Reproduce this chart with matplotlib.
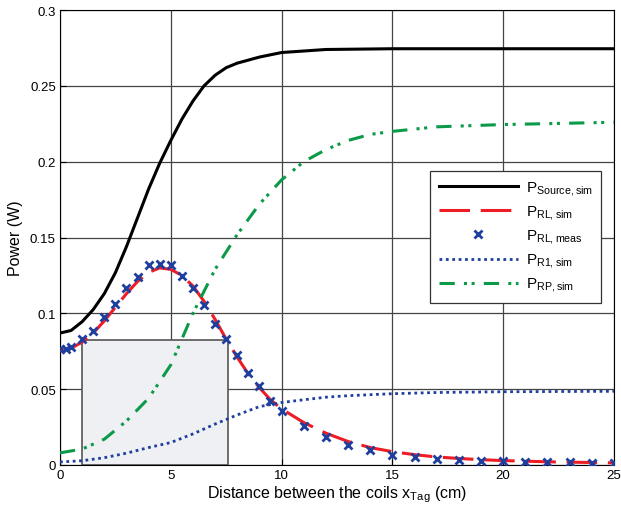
import numpy as np
import matplotlib
matplotlib.use('Agg')
import matplotlib.pyplot as plt
from matplotlib.patches import Rectangle
from matplotlib.legend_handler import HandlerLine2D

plt.rcParams['font.family'] = ['Liberation Sans', 'DejaVu Sans']
plt.rcParams['font.size'] = 9

# P_Source,sim
x_src = [0, 0.5, 1, 1.5, 2, 2.5, 3, 3.5, 4, 4.5, 5, 5.5, 6, 6.5, 7, 7.5, 8, 9, 10, 11, 12, 15, 20, 25]
p_src = [0.087, 0.0887, 0.0945, 0.1025, 0.1130, 0.1268, 0.144, 0.163, 0.182, 0.199, 0.214, 0.228, 0.240, 0.250, 0.257, 0.262, 0.265, 0.269, 0.272, 0.273, 0.274, 0.2745, 0.2745, 0.2745]

# P_RL,sim
x_rl = [0, 0.5, 1, 1.5, 2, 2.5, 3, 3.5, 4, 4.5, 5, 5.5, 6, 6.5, 7, 7.5, 8, 8.5, 9, 9.5, 10,
        11, 12, 13, 14, 15, 16, 17, 18, 19, 20, 22, 25]
p_rl = [0.075, 0.077, 0.081, 0.087, 0.095, 0.104, 0.113, 0.121, 0.127, 0.130, 0.129, 0.125, 0.118, 0.108, 0.096, 0.083, 0.071, 0.060, 0.051, 0.043, 0.037,
        0.028, 0.021, 0.0155, 0.0115, 0.0088, 0.0068, 0.0053, 0.0043, 0.0035, 0.0029, 0.0021, 0.0014]

# P_RL,meas
x_meas = [0, 0.25, 0.5, 1, 1.5, 2, 2.5, 3, 3.5, 4, 4.5, 5, 5.5, 6, 6.5, 7, 7.5, 8, 8.5, 9, 9.5, 10,
          11, 12, 13, 14, 15, 16, 17, 18, 19, 20, 21, 22, 23, 24, 25]
p_meas = [0.0765, 0.0765, 0.0776, 0.0831, 0.0886, 0.0974, 0.106, 0.117, 0.1237, 0.1319, 0.1325, 0.1319, 0.1248, 0.117, 0.1055, 0.093, 0.0831, 0.0725, 0.0607, 0.0519, 0.0424, 0.0354,
          0.0259, 0.0187, 0.0132, 0.0099, 0.0068, 0.0055, 0.0040, 0.0035, 0.0026, 0.0024, 0.0022, 0.0018, 0.0018, 0.0016, 0.0013]

# P_R1,sim
x_r1 = [0, 1, 2, 3, 4, 5, 6, 7, 8, 9, 10, 11, 12, 13, 15, 17, 20, 25]
p_r1 = [0.002, 0.0028, 0.0048, 0.0078, 0.0115, 0.0148, 0.0205, 0.027, 0.033, 0.0385, 0.0412, 0.043, 0.0447, 0.0457, 0.047, 0.0478, 0.0483, 0.0486]

# P_RP,sim
x_rp = [0, 1, 2, 3, 4, 5, 6, 7, 8, 9, 10, 11, 12, 13, 14, 15, 17, 20, 25]
p_rp = [0.008, 0.0105, 0.017, 0.029, 0.044, 0.066, 0.100, 0.129, 0.152, 0.172, 0.188, 0.200, 0.208, 0.214, 0.218, 0.220, 0.223, 0.2245, 0.226]


class MarkerAtEnd(HandlerLine2D):
    # legend marker sits near the right end of the handle, like the original
    def get_xdata(self, legend, xdescent, ydescent, width, height, fontsize):
        xdata, _ = super().get_xdata(legend, xdescent, ydescent, width, height, fontsize)
        return xdata, np.array([0.8 * width - xdescent])


fig = plt.figure(figsize=(6.21, 5.10), dpi=100)
ax = fig.add_axes([0.0966, 0.0863, 0.892, 0.892])

ax.add_patch(Rectangle((1, 0), 6.6, 0.0825, facecolor='#eff0f3', edgecolor='#555555', linewidth=1.2, zorder=1))

ax.plot(x_src, p_src, color='black', lw=2.2, label=r'P$_\mathregular{Source,sim}$', zorder=3)
ax.plot(x_rl, p_rl, color='#ee1c24', lw=2.2, dashes=(10, 3.5), label=r'P$_\mathregular{RL,sim}$', zorder=3)
meas, = ax.plot(x_meas, p_meas, ls='none', marker='x', color='#1f3f9f', ms=6, mew=2, label=r'P$_\mathregular{RL,meas}$', zorder=4)
ax.plot(x_r1, p_r1, color='#1f3f9f', lw=2, ls=(0, (1, 1.3)), label=r'P$_\mathregular{R1,sim}$', zorder=3)
ax.plot(x_rp, p_rp, color='#0a9a48', lw=2.2, dashes=(5, 3, 1, 1.5, 1, 3), label=r'P$_\mathregular{RP,sim}$', zorder=3)

ax.set_xlim(0, 25)
ax.set_ylim(0, 0.3)
ax.set_xticks([0, 5, 10, 15, 20, 25])
ax.set_yticks([0, 0.05, 0.1, 0.15, 0.2, 0.25, 0.3])
ax.set_yticklabels(['0', '0.05', '0.1', '0.15', '0.2', '0.25', '0.3'])
ax.grid(True, color='#444444', lw=0.9, ls='-')
ax.set_axisbelow(True)
ax.tick_params(direction='in', length=4, pad=3, labelsize=9.5)
ax.set_xlabel(r'Distance between the coils x$_\mathregular{Tag}$ (cm)', fontsize=11.5, labelpad=1.5)
ax.set_ylabel('Power (W)', fontsize=11.5, labelpad=5)

leg = ax.legend(loc='upper right', bbox_to_anchor=(0.977, 0.646), borderaxespad=0, fancybox=False,
                edgecolor='#333333', framealpha=1, fontsize=11, handlelength=5.2, handletextpad=0.5,
                labelspacing=0.38, borderpad=0.55, handler_map={meas: MarkerAtEnd(numpoints=1)})
leg.get_frame().set_linewidth(0.9)

fig.savefig('out.png', dpi=100)
